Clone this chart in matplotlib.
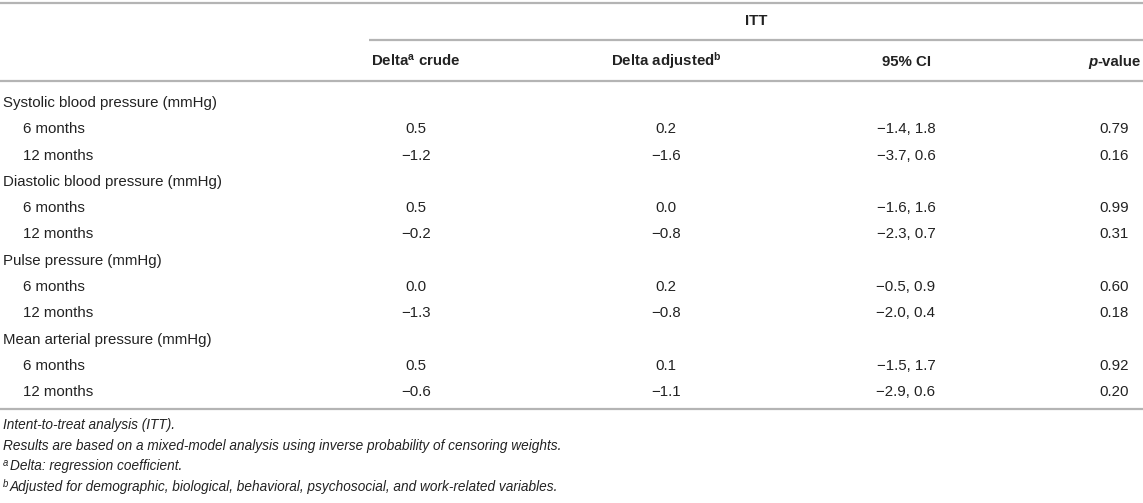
import matplotlib
matplotlib.use("Agg")
import matplotlib.pyplot as plt

plt.rcParams["font.family"] = ["Liberation Sans", "DejaVu Sans"]
plt.rcParams["mathtext.fontset"] = "custom"
plt.rcParams["mathtext.rm"] = "Liberation Sans"
plt.rcParams["mathtext.it"] = "Liberation Sans:italic"
plt.rcParams["mathtext.bf"] = "Liberation Sans:bold"

# table content
groups = ["Systolic blood pressure (mmHg)", "Diastolic blood pressure (mmHg)",
          "Pulse pressure (mmHg)", "Mean arterial pressure (mmHg)"]
timepoints = ["6 months", "12 months"]
delta_crude = [0.5, -1.2, 0.5, -0.2, 0.0, -1.3, 0.5, -0.6]
delta_adjusted = [0.2, -1.6, 0.0, -0.8, 0.2, -0.8, 0.1, -1.1]
ci_low = [-1.4, -3.7, -1.6, -2.3, -0.5, -2.0, -1.5, -2.9]
ci_high = [1.8, 0.6, 1.6, 0.7, 0.9, 0.4, 1.7, 0.6]
p_values = [0.79, 0.16, 0.99, 0.31, 0.60, 0.18, 0.92, 0.20]
footnote_marks = ["", "", "a", "b"]
footnotes = [
    "Intent-to-treat analysis (ITT).",
    "Results are based on a mixed-model analysis using inverse probability of censoring weights.",
    "Delta: regression coefficient.",
    "Adjusted for demographic, biological, behavioral, psychosocial, and work-related variables.",
]

W, H = 1143, 503
TXT = "#222222"
RULE = "#b4b4b4"
FS = 10.8
FN = 9.8


def fmt(v, nd=1):
    return f"{v:.{nd}f}".replace("-", "\u2212")


fig = plt.figure(figsize=(W / 100, H / 100), dpi=100)
ax = fig.add_axes([0, 0, 1, 1])
ax.set_xlim(0, W)
ax.set_ylim(H, 0)
ax.axis("off")

col_x = [416, 666, 906, 1114]

# rules
ax.plot([0, W], [3, 3], color=RULE, lw=1.6, solid_capstyle="butt")
ax.plot([369, W], [40, 40], color=RULE, lw=1.6, solid_capstyle="butt")
ax.plot([0, W], [81, 81], color=RULE, lw=1.6, solid_capstyle="butt")

# headers
hb = 66
ax.text(756, 25, "ITT", ha="center", va="baseline", fontsize=FS, weight="bold", color=TXT)
ax.text(col_x[0], hb, "Delta$^{\\mathbf{a}}$ crude", ha="center", va="baseline",
        fontsize=FS, weight="bold", color=TXT)
ax.text(col_x[1], hb, "Delta adjusted$^{\\mathbf{b}}$", ha="center", va="baseline",
        fontsize=FS, weight="bold", color=TXT)
ax.text(col_x[2], hb, "95% CI", ha="center", va="baseline", fontsize=FS, weight="bold", color=TXT)
p_txt = ax.text(1088, hb, "p", ha="left", va="baseline", fontsize=FS,
                weight="bold", style="italic", color=TXT)
ax.annotate("-value", xy=(1, 0), xycoords=p_txt, ha="left", va="bottom",
            fontsize=FS, weight="bold", color=TXT)

# body
y0, dy = 103, 26.3
row = 0
k = 0
for g in groups:
    ax.text(3, y0 + row * dy, g, ha="left", va="center", fontsize=FS, color=TXT)
    row += 1
    for t in timepoints:
        y = y0 + row * dy
        ax.text(23, y, t, ha="left", va="center", fontsize=FS, color=TXT)
        ax.text(col_x[0], y, fmt(delta_crude[k]), ha="center", va="center", fontsize=FS, color=TXT)
        ax.text(col_x[1], y, fmt(delta_adjusted[k]), ha="center", va="center", fontsize=FS, color=TXT)
        ax.text(col_x[2], y, fmt(ci_low[k]) + ", " + fmt(ci_high[k]), ha="center", va="center",
                fontsize=FS, color=TXT)
        ax.text(col_x[3], y, fmt(p_values[k], 2), ha="center", va="center", fontsize=FS, color=TXT)
        row += 1
        k += 1

ax.plot([0, W], [409, 409], color=RULE, lw=1.6, solid_capstyle="butt")

# footnotes, superscript marker drawn separately so every line keeps the same baseline
for i, (m, f) in enumerate(zip(footnote_marks, footnotes)):
    yb = 429 + i * 21
    if m:
        mk = ax.text(3, yb - 5, m, ha="left", va="baseline", fontsize=FN * 0.7,
                     style="italic", color=TXT)
        ax.annotate(f, xy=(1, 0), xycoords=mk, xytext=(1, -5 * 0.72), textcoords="offset points",
                    ha="left", va="bottom", fontsize=FN, style="italic", color=TXT)
    else:
        ax.text(3, yb, f, ha="left", va="baseline", fontsize=FN, style="italic", color=TXT)

fig.savefig("out.png", dpi=100)
